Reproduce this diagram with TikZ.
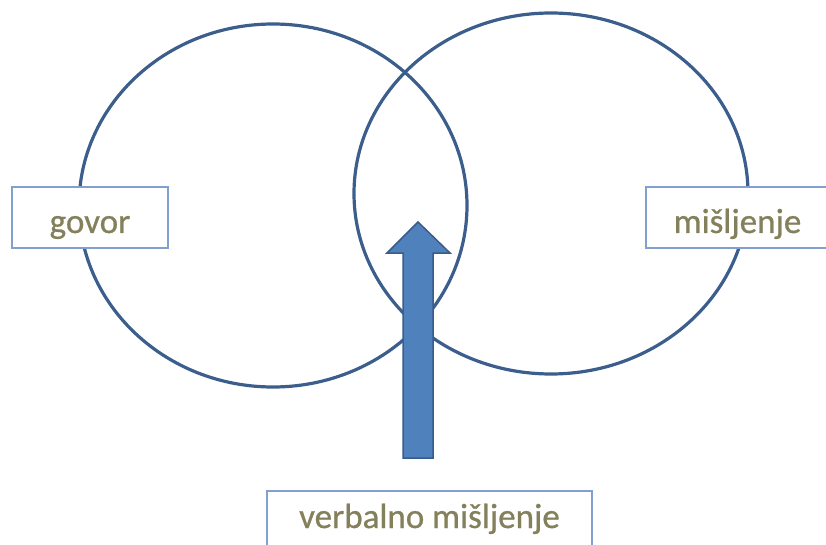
\documentclass[tikz,border=0pt]{standalone}
\usepackage{fontspec}
\setmainfont{Carlito}
\usepackage{tikz}
\usetikzlibrary{positioning}

\definecolor{ringblue}{RGB}{59,94,140}
\definecolor{boxblue}{RGB}{130,160,205}
\definecolor{arrowfill}{RGB}{79,129,189}
\definecolor{arrowline}{RGB}{58,92,138}
\definecolor{labelolive}{RGB}{132,128,92}

\begin{document}
\begin{tikzpicture}[x=1pt,y=-1pt,
				ring/.style={draw=ringblue,line width=3.2pt},
				label box/.style={rectangle,draw=boxblue,line width=1.2pt,fill=white,
					minimum height=61pt,inner sep=0pt,text=labelolive,
					text height=35pt,text depth=4pt,
					font=\fontsize{35}{40}\selectfont\addfontfeature{FakeBold=0.7}}]
				
				\clip (0,0) rectangle (826,545);
				
				% the two rings
				\draw[ring] (273,205.5) ellipse [x radius=194pt,y radius=181.5pt];
				\draw[ring] (551,193.5) ellipse [x radius=197pt,y radius=180.5pt];
				
				\node[label box,minimum width=156pt] (govor) at (90,217.5) {govor};
				\node[label box,minimum width=183pt] (misljenje) at (737.5,217.5) {mišljenje};
				\node[label box,minimum width=325pt,text height=22pt,text depth=9pt]
				(verbalno) at (429.5,521.5) {verbalno mišljenje};
				
				% block arrow
				\coordinate (tail) at (418,458);
				\coordinate (tip) at (418,222);
				\draw[fill=arrowfill,draw=arrowline,line width=1.5pt,line join=miter]
				(tail) ++(-15,0) -- ++(0,-205) -- ++(-16,0) -- (tip)
				-- ++(32,31) -- ++(-17,0) -- ++(0,205) -- cycle;
				
				\end{tikzpicture}
\end{document}
